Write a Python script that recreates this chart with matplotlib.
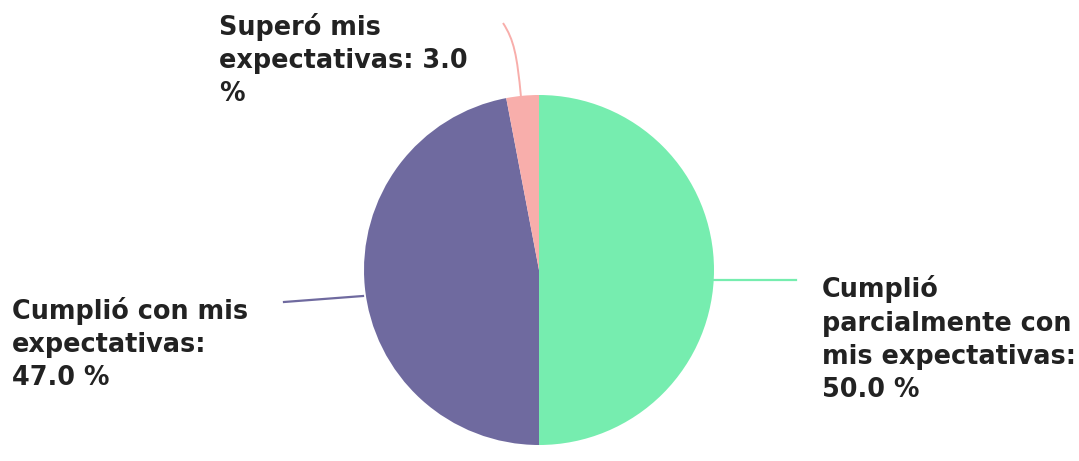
import matplotlib
matplotlib.use("Agg")
import matplotlib.pyplot as plt
from matplotlib.path import Path
from matplotlib.patches import PathPatch

categories = ["Cumplió parcialmente con mis expectativas",
              "Cumplió con mis expectativas",
              "Superó mis expectativas"]
values = [50.0, 47.0, 3.0]
colors = ["#76EDAF", "#6F6A9F", "#F8AEAB"]
label_texts = ["Cumplió\nparcialmente con\nmis expectativas:\n50.0 %",
               "Cumplió con mis\nexpectativas:\n47.0 %",
               "Superó mis\nexpectativas: 3.0\n%"]

W, H = 1079, 461
fig = plt.figure(figsize=(W / 100, H / 100), dpi=100)
ax = fig.add_axes([0, 0, 1, 1])

cx, cy, r = 539, 191, 175
ax.pie(values, colors=colors, startangle=90, counterclock=False,
       center=(cx, cy), radius=r, frame=True,
       wedgeprops=dict(linewidth=0))
ax.set_xlim(0, W)
ax.set_ylim(0, H)
ax.axis("off")

# va="baseline" anchors the last line of each label
font = dict(family="DejaVu Sans", fontweight="bold", fontsize=18.4,
            color="#222222", linespacing=1.36, va="baseline", ha="left")

# leader lines (pixel coords, y measured from the bottom)
ax.plot([713, 796], [H - 280, H - 280], color=colors[0], lw=1.6)
ax.plot([363, 284], [H - 296, H - 302], color=colors[1], lw=1.6)
pth = Path([(521, H - 97), (517, H - 55), (514, H - 40), (503, H - 23)],
           [Path.MOVETO, Path.CURVE4, Path.CURVE4, Path.CURVE4])
ax.add_patch(PathPatch(pth, fc="none", ec=colors[2], lw=1.4))

ax.text(822, H - 397, label_texts[0], **font)
ax.text(12, H - 385, label_texts[1], **font)
ax.text(219, H - 101, label_texts[2], **font)

fig.savefig("out.png", dpi=100)
